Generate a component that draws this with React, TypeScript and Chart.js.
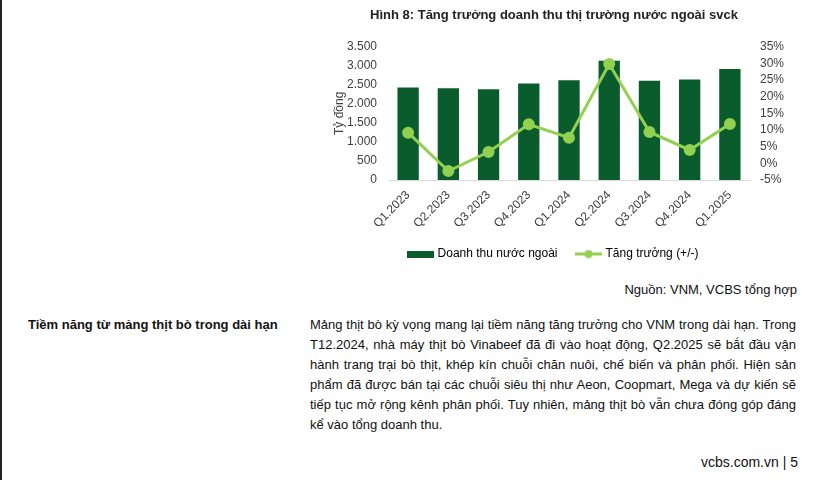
import React, { useEffect, useRef } from "react";
import { Chart, registerables } from "chart.js";

Chart.register(...registerables);

const categories = ["Q1.2023", "Q2.2023", "Q3.2023", "Q4.2023", "Q1.2024", "Q2.2024", "Q3.2024", "Q4.2024", "Q1.2025"];
const revenue = [2430, 2405, 2380, 2530, 2615, 3130, 2605, 2635, 2915];
const growth = [9.2, -2.3, 3.4, 11.7, 7.7, 29.8, 9.4, 4.0, 11.8];
const revenueLabel = "Doanh thu nước ngoài";
const growthLabel = "Tăng trưởng (+/-)";
const chartTitle = "Hình 8: Tăng trưởng doanh thu thị trường nước ngoài svck";
const leftAxisTitle = "Tỷ đồng";
const sourceNote = "Nguồn: VNM, VCBS tổng hợp";
const sideHeading = "Tiềm năng từ mảng thịt bò trong dài hạn";
const paragraphLines = [
  "Mảng thịt bò kỳ vọng mang lại tiềm năng tăng trưởng cho VNM trong dài hạn. Trong",
  "T12.2024, nhà máy thịt bò Vinabeef đã đi vào hoạt động, Q2.2025 sẽ bắt đầu vận",
  "hành trang trại bò thịt, khép kín chuỗi chăn nuôi, chế biến và phân phối. Hiện sản",
  "phẩm đã được bán tại các chuỗi siêu thị như Aeon, Coopmart, Mega và dự kiến sẽ",
  "tiếp tục mở rộng kênh phân phối. Tuy nhiên, mảng thịt bò vẫn chưa đóng góp đáng",
  "kể vào tổng doanh thu.",
];
const footer = "vcbs.com.vn | 5";

const BAR_COLOR = "#0b5c2d";
const LINE_COLOR = "#92d050";
const FONT = "'Liberation Sans', Arial, sans-serif";

function makeBarSwatch() {
  const c = document.createElement("canvas");
  c.width = 27;
  c.height = 7;
  const ctx = c.getContext("2d")!;
  ctx.fillStyle = BAR_COLOR;
  ctx.fillRect(0, 0, 27, 7);
  return c;
}

function makeLineSwatch() {
  const c = document.createElement("canvas");
  c.width = 27;
  c.height = 9;
  const ctx = c.getContext("2d")!;
  ctx.strokeStyle = LINE_COLOR;
  ctx.lineWidth = 3;
  ctx.beginPath();
  ctx.moveTo(0, 4.5);
  ctx.lineTo(27, 4.5);
  ctx.stroke();
  ctx.fillStyle = LINE_COLOR;
  ctx.beginPath();
  ctx.arc(13.5, 4.5, 4, 0, Math.PI * 2);
  ctx.fill();
  return c;
}

function ChartBox() {
  const ref = useRef<HTMLCanvasElement | null>(null);
  useEffect(() => {
    if (!ref.current) return;
    const barSwatch = makeBarSwatch();
    const lineSwatch = makeLineSwatch();
    const chart = new Chart(ref.current, {
      type: "bar",
      data: {
        labels: categories,
        datasets: [
          {
            type: "bar",
            label: revenueLabel,
            data: revenue,
            backgroundColor: BAR_COLOR,
            yAxisID: "y",
            order: 2,
            barPercentage: 0.53,
            categoryPercentage: 1,
          },
          {
            type: "line",
            label: growthLabel,
            data: growth,
            borderColor: LINE_COLOR,
            backgroundColor: LINE_COLOR,
            borderWidth: 3,
            pointRadius: 4.5,
            pointBackgroundColor: LINE_COLOR,
            pointBorderColor: LINE_COLOR,
            yAxisID: "y1",
            order: 1,
            tension: 0,
          } as any,
        ],
      },
      options: {
        responsive: false,
        animation: false,
        layout: { padding: 0 },
        plugins: {
          tooltip: { enabled: false },
          title: {
            display: true,
            text: chartTitle,
            color: "#222",
            font: { family: FONT, size: 13, weight: "bold" },
            padding: { top: 8, bottom: 23 },
          },
          legend: {
            display: true,
            position: "bottom",
            labels: {
              usePointStyle: true,
              pointStyleWidth: 22,
              padding: 20,
              color: "#333",
              font: { family: FONT, size: 12 },
              generateLabels: () => [
                {
                  text: revenueLabel,
                  pointStyle: barSwatch as any,
                  fillStyle: BAR_COLOR,
                  strokeStyle: BAR_COLOR,
                  lineWidth: 0,
                  hidden: false,
                  datasetIndex: 0,
                },
                {
                  text: growthLabel,
                  pointStyle: lineSwatch as any,
                  fillStyle: LINE_COLOR,
                  strokeStyle: LINE_COLOR,
                  lineWidth: 0,
                  hidden: false,
                  datasetIndex: 1,
                },
              ],
            },
          },
        },
        scales: {
          x: {
            grid: { display: false, drawTicks: false },
            border: { display: true, color: "#d9d9d9", width: 1 },
            ticks: {
              autoSkip: false,
              maxRotation: 45,
              minRotation: 45,
              padding: 8,
              color: "#404040",
              font: { family: FONT, size: 12 },
            },
            afterFit: (s: any) => {
              s.height = 48;
            },
          },
          y: {
            position: "left",
            min: 0,
            max: 3500,
            grid: { display: false, drawTicks: false },
            border: { display: false },
            ticks: {
              autoSkip: false,
              stepSize: 500,
              padding: 11,
              color: "#404040",
              font: { family: FONT, size: 12 },
              callback: (v: any) => Number(v).toLocaleString("de-DE"),
            },
            title: {
              display: true,
              text: leftAxisTitle,
              color: "#404040",
              font: { family: FONT, size: 12 },
              padding: { top: 12, bottom: 0 },
            },
            afterFit: (s: any) => {
              s.width = 68;
            },
          },
          y1: {
            position: "right",
            min: -5,
            max: 35,
            grid: { display: false, drawTicks: false },
            border: { display: false },
            ticks: {
              autoSkip: false,
              stepSize: 5,
              padding: 10,
              color: "#404040",
              font: { family: FONT, size: 12 },
              callback: (v: any) => `${v}%`,
            },
            afterFit: (s: any) => {
              s.width = 38;
            },
          },
        },
      } as any,
    });
    return () => chart.destroy();
  }, []);
  return (
    <canvas
      ref={ref}
      width={468}
      height={270}
      style={{ position: "absolute", left: 320, top: 0, width: 468, height: 270 }}
    />
  );
}

export default function App() {
  const textBase: React.CSSProperties = {
    position: "absolute",
    fontFamily: FONT,
    color: "#111",
    whiteSpace: "nowrap",
  };
  return (
    <div style={{ position: "absolute", left: 0, top: 0, width: 814, height: 480, background: "#fff", overflow: "hidden" }}>
      <div style={{ position: "absolute", left: 0, top: 0, width: 2, height: 480, background: "#222" }} />
      <ChartBox />
      <div style={{ ...textBase, right: 814 - 797, top: 280, fontSize: 13, lineHeight: "20px" }}>{sourceNote}</div>
      <div style={{ ...textBase, left: 28, top: 315, fontSize: 13, lineHeight: "20px", fontWeight: "bold" }}>{sideHeading}</div>
      <div style={{ position: "absolute", left: 310, top: 315, width: 486, fontFamily: FONT, fontSize: 13, color: "#111" }}>
        {paragraphLines.map((line, i) => (
          <div
            key={i}
            style={{
              height: 20,
              lineHeight: "20px",
              whiteSpace: "nowrap",
              textAlign: "justify",
              textAlignLast: i < paragraphLines.length - 1 ? "justify" : "left",
            } as React.CSSProperties}
          >
            {line}
          </div>
        ))}
      </div>
      <div style={{ ...textBase, right: 814 - 798, top: 452, fontSize: 14, lineHeight: "20px" }}>{footer}</div>
    </div>
  );
}
